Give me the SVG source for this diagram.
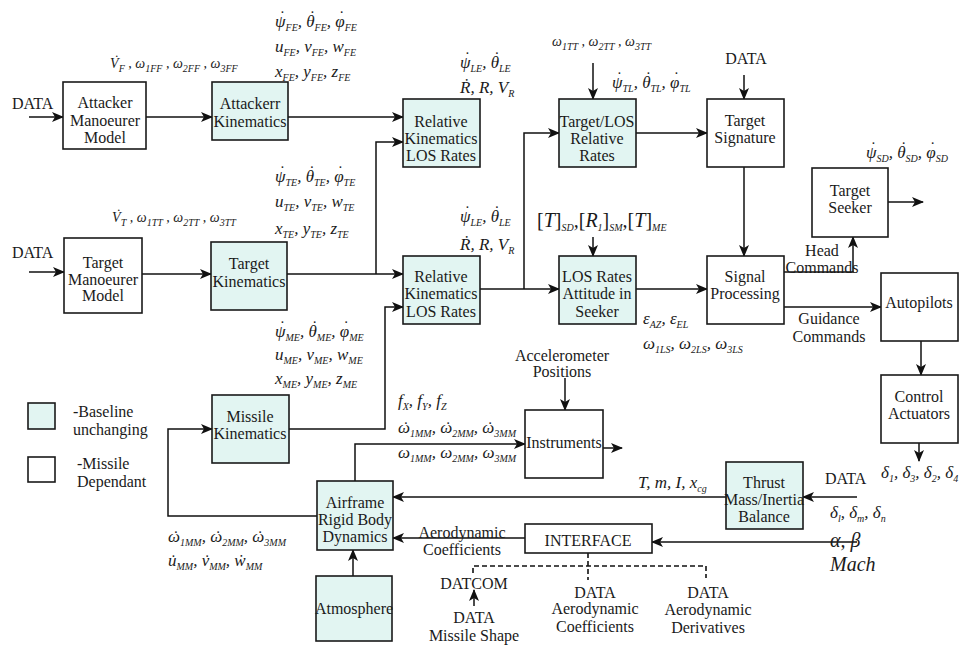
<svg xmlns="http://www.w3.org/2000/svg" width="962" height="648" viewBox="0 0 962 648">
<style>
text{font-family:"Liberation Serif","Times New Roman","DejaVu Serif",serif;fill:#1a1a1a}
.t{font-size:16px;text-anchor:middle}
.tl{font-size:16px}
.m{font-style:italic;font-size:17px}
.ms{font-style:italic;font-size:14px}
.mb{font-style:italic;font-size:20px}
.s{font-size:10px;baseline-shift:-4px}
.bx{stroke:#1a1a1a;stroke-width:1.6}
.c{fill:#e2f5f2}
.w{fill:#fff}
.ln{fill:none;stroke:#111;stroke-width:1.5}
.dash{fill:none;stroke:#111;stroke-width:1.6;stroke-dasharray:5,3}
</style>
<defs>
<marker id="ah" viewBox="0 0 12 10" refX="11" refY="5" markerWidth="12" markerHeight="10" markerUnits="userSpaceOnUse" orient="auto">
<path d="M0,0 L12,5 L0,10 L3,5 z" fill="#111"/>
</marker>
</defs>
<rect width="962" height="648" fill="#fff"/>

<g id="connectors">
<path class="ln" marker-end="url(#ah)" d="M29,117 H63"/>
<path class="ln" marker-end="url(#ah)" d="M146,117 H212"/>
<path class="ln" marker-end="url(#ah)" d="M288,117 H403"/>
<path class="ln" marker-end="url(#ah)" d="M29,272 H64"/>
<path class="ln" marker-end="url(#ah)" d="M142,274 H211"/>
<path class="ln" marker-end="url(#ah)" d="M287,274 H403"/>
<path class="ln" marker-end="url(#ah)" d="M376,274 V142 H403"/>
<path class="ln" marker-end="url(#ah)" d="M289,429 H385 V307 H403"/>
<path class="ln" marker-end="url(#ah)" d="M480,289 H559"/>
<path class="ln" marker-end="url(#ah)" d="M524,289 V133 H559"/>
<path class="ln" marker-end="url(#ah)" d="M593,63 V99"/>
<path class="ln" marker-end="url(#ah)" d="M636,133 H707"/>
<path class="ln" marker-end="url(#ah)" d="M744,75 V99"/>
<path class="ln" marker-end="url(#ah)" d="M744,167 V256"/>
<path class="ln" marker-end="url(#ah)" d="M593,237 V256"/>
<path class="ln" marker-end="url(#ah)" d="M636,289 H707"/>
<path class="ln" marker-end="url(#ah)" d="M784,272 H853 V237"/>
<path class="ln" marker-end="url(#ah)" d="M888,202 H923"/>
<path class="ln" marker-end="url(#ah)" d="M784,307 H881"/>
<path class="ln" marker-end="url(#ah)" d="M921,341 V375"/>
<path class="ln" marker-end="url(#ah)" d="M919,443 V461"/>
<path class="ln" marker-end="url(#ah)" d="M857,497 H803"/>
<path class="ln" marker-end="url(#ah)" d="M726,497 H393"/>
<path class="ln" marker-end="url(#ah)" d="M857,542 H652"/>
<path class="ln" marker-end="url(#ah)" d="M525,538 H393"/>
<path class="ln" marker-end="url(#ah)" d="M353,576 V550"/>
<path class="ln" marker-end="url(#ah)" d="M355,481 V444 H525"/>
<path class="ln" marker-end="url(#ah)" d="M603,448 H622"/>
<path class="ln" marker-end="url(#ah)" d="M565,378 V410"/>
<path class="ln" marker-end="url(#ah)" d="M317,516 H168 V429 H212"/>
<path class="ln" marker-end="url(#ah)" d="M474,606 V590"/>
<path class="dash" d="M588,553 V580 M473,573 V566 H706 V578"/>
</g>

<g id="legend-baseline"><rect class="bx c" x="28" y="403" width="27" height="26"/><text class="tl" x="73" y="417">-Baseline</text><text class="tl" x="73" y="435">unchanging</text></g>
<g id="legend-missile"><rect class="bx w" x="28" y="457" width="27" height="25"/><text class="tl" x="77" y="469">-Missile</text><text class="tl" x="77" y="487">Dependant</text></g>

<g id="attacker-model"><rect class="bx w" x="63" y="82" width="83" height="67"/><text class="t" x="105" y="108">Attacker</text><text class="t" x="105" y="126">Manoeurer</text><text class="t" x="105" y="143">Model</text></g>
<g id="attacker-kin"><rect class="bx c" x="212" y="82" width="76" height="58"/><text class="t" x="250" y="109">Attackerr</text><text class="t" x="250" y="127">Kinematics</text></g>
<g id="rel-top"><rect class="bx c" x="403" y="99" width="77" height="68"/><text class="t" x="441" y="127">Relative</text><text class="t" x="441" y="144">Kinematics</text><text class="t" x="441" y="161">LOS Rates</text></g>
<g id="target-los"><rect class="bx c" x="559" y="99" width="77" height="68"/><text class="t" x="597" y="127">Target/LOS</text><text class="t" x="597" y="144">Relative</text><text class="t" x="597" y="161">Rates</text></g>
<g id="target-sig"><rect class="bx w" x="707" y="99" width="77" height="68"/><text class="t" x="745" y="126">Target</text><text class="t" x="745" y="143">Signature</text></g>
<g id="target-seeker"><rect class="bx w" x="812" y="168" width="76" height="69"/><text class="t" x="850" y="196">Target</text><text class="t" x="850" y="213">Seeker</text></g>
<g id="target-model"><rect class="bx w" x="64" y="238" width="78" height="75"/><text class="t" x="103" y="268">Target</text><text class="t" x="103" y="285">Manoeurer</text><text class="t" x="103" y="301">Model</text></g>
<g id="target-kin"><rect class="bx c" x="211" y="242" width="76" height="68"/><text class="t" x="249" y="269">Target</text><text class="t" x="249" y="287">Kinematics</text></g>
<g id="rel-bot"><rect class="bx c" x="403" y="256" width="77" height="68"/><text class="t" x="441" y="282">Relative</text><text class="t" x="441" y="299">Kinematics</text><text class="t" x="441" y="317">LOS Rates</text></g>
<g id="los-seeker"><rect class="bx c" x="559" y="256" width="77" height="68"/><text class="t" x="597" y="282">LOS Rates</text><text class="t" x="597" y="299">Attitude in</text><text class="t" x="597" y="317">Seeker</text></g>
<g id="signal"><rect class="bx w" x="707" y="256" width="77" height="68"/><text class="t" x="745" y="282">Signal</text><text class="t" x="745" y="299">Processing</text></g>
<g id="autopilots"><rect class="bx w" x="881" y="273" width="77" height="68"/><text class="t" x="919" y="308">Autopilots</text></g>
<g id="control"><rect class="bx w" x="881" y="375" width="77" height="68"/><text class="t" x="919" y="402">Control</text><text class="t" x="919" y="419">Actuators</text></g>
<g id="missile-kin"><rect class="bx c" x="212" y="395" width="77" height="68"/><text class="t" x="250" y="422">Missile</text><text class="t" x="250" y="439">Kinematics</text></g>
<g id="instruments"><rect class="bx w" x="525" y="410" width="78" height="68"/><text class="t" x="564" y="448">Instruments</text></g>
<g id="airframe"><rect class="bx c" x="317" y="481" width="76" height="69"/><text class="t" x="355" y="508">Airframe</text><text class="t" x="355" y="525">Rigid Body</text><text class="t" x="355" y="542">Dynamics</text></g>
<g id="atmosphere"><rect class="bx c" x="316" y="576" width="76" height="65"/><text class="t" x="354" y="614">Atmosphere</text></g>
<g id="thrust"><rect class="bx c" x="726" y="462" width="77" height="67"/><text class="t" x="764" y="488">Thrust</text><text class="t" x="764" y="505">Mass/Inertia</text><text class="t" x="764" y="522">Balance</text></g>
<g id="interface"><rect class="bx w" x="525" y="524" width="127" height="29"/><text class="t" x="588" y="546">INTERFACE</text></g>

<g id="labels">
<text class="tl" x="12" y="109">DATA</text>
<text class="tl" x="12" y="258">DATA</text>
<text class="t" x="746" y="64">DATA</text>
<text class="t" x="822" y="256">Head</text>
<text class="t" x="822" y="273">Commands</text>
<text class="t" x="829" y="324">Guidance</text>
<text class="t" x="829" y="342">Commands</text>
<text class="t" x="562" y="361">Accelerometer</text>
<text class="t" x="562" y="377">Positions</text>
<text class="t" x="462" y="538">Aerodynamic</text>
<text class="t" x="462" y="555">Coefficients</text>
<text class="t" x="474" y="589">DATCOM</text>
<text class="t" x="474" y="623">DATA</text>
<text class="t" x="474" y="641">Missile Shape</text>
<text class="t" x="595" y="598">DATA</text>
<text class="t" x="595" y="614">Aerodynamic</text>
<text class="t" x="595" y="632">Coefficients</text>
<text class="t" x="708" y="598">DATA</text>
<text class="t" x="708" y="615">Aerodynamic</text>
<text class="t" x="708" y="633">Derivatives</text>
<text class="tl" x="825" y="484">DATA</text>

<text class="ms" x="110" y="68">V<tspan dx="-5" dy="-3">˙</tspan><tspan class="s" dx="0.5" dy="3">F</tspan> , ω<tspan class="s">1FF</tspan> , ω<tspan class="s">2FF</tspan> , ω<tspan class="s">3FF</tspan></text>
<text class="m" x="275" y="27">ψ<tspan dx="-7" dy="-5">˙</tspan><tspan class="s" dx="1.3" dy="5">FE</tspan>, θ<tspan dx="-6" dy="-5">˙</tspan><tspan class="s" dx="0.3" dy="5">FE</tspan>, φ<tspan dx="-7" dy="-5">˙</tspan><tspan class="s" dx="1.3" dy="5">FE</tspan></text>
<text class="m" x="275" y="52">u<tspan class="s">FE</tspan>, v<tspan class="s">FE</tspan>, w<tspan class="s">FE</tspan></text>
<text class="m" x="275" y="77">x<tspan class="s">FE</tspan>, y<tspan class="s">FE</tspan>, z<tspan class="s">FE</tspan></text>
<text class="m" x="460" y="68">ψ<tspan dx="-7" dy="-5">˙</tspan><tspan class="s" dx="1.3" dy="5">LE</tspan>, θ<tspan dx="-6" dy="-5">˙</tspan><tspan class="s" dx="0.3" dy="5">LE</tspan></text>
<text class="m" x="460" y="93">Ṙ, R, V<tspan class="s">R</tspan></text>
<text class="ms" x="552" y="46">ω<tspan class="s">1TT</tspan> , ω<tspan class="s">2TT</tspan> , ω<tspan class="s">3TT</tspan></text>
<text class="m" x="612" y="88">ψ<tspan dx="-7" dy="-5">˙</tspan><tspan class="s" dx="1.3" dy="5">TL</tspan>, θ<tspan dx="-6" dy="-5">˙</tspan><tspan class="s" dx="0.3" dy="5">TL</tspan>, φ<tspan dx="-7" dy="-5">˙</tspan><tspan class="s" dx="1.3" dy="5">TL</tspan></text>
<text class="m" x="866" y="158">ψ<tspan dx="-7" dy="-5">˙</tspan><tspan class="s" dx="1.3" dy="5">SD</tspan>, θ<tspan dx="-6" dy="-5">˙</tspan><tspan class="s" dx="0.3" dy="5">SD</tspan>, φ<tspan dx="-7" dy="-5">˙</tspan><tspan class="s" dx="1.3" dy="5">SD</tspan></text>
<text class="ms" x="112" y="222">V<tspan dx="-5" dy="-3">˙</tspan><tspan class="s" dx="0.5" dy="3">T</tspan> , ω<tspan class="s">1TT</tspan> , ω<tspan class="s">2TT</tspan> , ω<tspan class="s">3TT</tspan></text>
<text class="m" x="275" y="182">ψ<tspan dx="-7" dy="-5">˙</tspan><tspan class="s" dx="1.3" dy="5">TE</tspan>, θ<tspan dx="-6" dy="-5">˙</tspan><tspan class="s" dx="0.3" dy="5">TE</tspan>, φ<tspan dx="-7" dy="-5">˙</tspan><tspan class="s" dx="1.3" dy="5">TE</tspan></text>
<text class="m" x="275" y="207">u<tspan class="s">TE</tspan>, v<tspan class="s">TE</tspan>, w<tspan class="s">TE</tspan></text>
<text class="m" x="275" y="234">x<tspan class="s">TE</tspan>, y<tspan class="s">TE</tspan>, z<tspan class="s">TE</tspan></text>
<text class="m" x="460" y="222">ψ<tspan dx="-7" dy="-5">˙</tspan><tspan class="s" dx="1.3" dy="5">LE</tspan>, θ<tspan dx="-6" dy="-5">˙</tspan><tspan class="s" dx="0.3" dy="5">LE</tspan></text>
<text class="m" x="460" y="250">Ṙ, R, V<tspan class="s">R</tspan></text>
<text class="mb" x="537" y="227"><tspan font-style="normal">[</tspan>T<tspan font-style="normal">]</tspan><tspan class="s">SD</tspan>,<tspan font-style="normal">[</tspan>R<tspan class="s">1</tspan><tspan font-style="normal">]</tspan><tspan class="s">SM</tspan>,<tspan font-style="normal">[</tspan>T<tspan font-style="normal">]</tspan><tspan class="s">ME</tspan></text>
<text class="m" x="643" y="324">ε<tspan class="s">AZ</tspan>, ε<tspan class="s">EL</tspan></text>
<text class="m" x="643" y="349">ω<tspan class="s">1LS</tspan>, ω<tspan class="s">2LS</tspan>, ω<tspan class="s">3LS</tspan></text>
<text class="m" x="275" y="337">ψ<tspan dx="-7" dy="-5">˙</tspan><tspan class="s" dx="1.3" dy="5">ME</tspan>, θ<tspan dx="-6" dy="-5">˙</tspan><tspan class="s" dx="0.3" dy="5">ME</tspan>, φ<tspan dx="-7" dy="-5">˙</tspan><tspan class="s" dx="1.3" dy="5">ME</tspan></text>
<text class="m" x="275" y="360">u<tspan class="s">ME</tspan>, v<tspan class="s">ME</tspan>, w<tspan class="s">ME</tspan></text>
<text class="m" x="275" y="384">x<tspan class="s">ME</tspan>, y<tspan class="s">ME</tspan>, z<tspan class="s">ME</tspan></text>
<text class="m" x="398" y="406">f<tspan class="s">X</tspan>, f<tspan class="s">Y</tspan>, f<tspan class="s">Z</tspan></text>
<text class="m" x="398" y="433">ω<tspan dx="-8">˙</tspan><tspan class="s" dx="2.3">1MM</tspan>, ω<tspan dx="-8">˙</tspan><tspan class="s" dx="2.3">2MM</tspan>, ω<tspan dx="-8">˙</tspan><tspan class="s" dx="2.3">3MM</tspan></text>
<text class="m" x="398" y="458">ω<tspan class="s">1MM</tspan>, ω<tspan class="s">2MM</tspan>, ω<tspan class="s">3MM</tspan></text>
<text class="m" x="168" y="542">ω<tspan dx="-8">˙</tspan><tspan class="s" dx="2.3">1MM</tspan>, ω<tspan dx="-8">˙</tspan><tspan class="s" dx="2.3">2MM</tspan>, ω<tspan dx="-8">˙</tspan><tspan class="s" dx="2.3">3MM</tspan></text>
<text class="m" x="168" y="566">u<tspan dx="-7">˙</tspan><tspan class="s" dx="1.3">MM</tspan>, v<tspan dx="-6">˙</tspan><tspan class="s" dx="0.3">MM</tspan>, ẇ<tspan class="s">MM</tspan></text>
<text class="m" x="638" y="488">T, m, I, x<tspan class="s">cg</tspan></text>
<text class="m" x="881" y="478">δ<tspan class="s">1</tspan>, δ<tspan class="s">3</tspan>, δ<tspan class="s">2</tspan>, δ<tspan class="s">4</tspan></text>
<text class="m" x="830" y="518">δ<tspan class="s">l</tspan>, δ<tspan class="s">m</tspan>, δ<tspan class="s">n</tspan></text>
<text class="mb" x="830" y="547">α, β</text>
<text class="mb" x="830" y="571">Mach</text>
</g>
</svg>
